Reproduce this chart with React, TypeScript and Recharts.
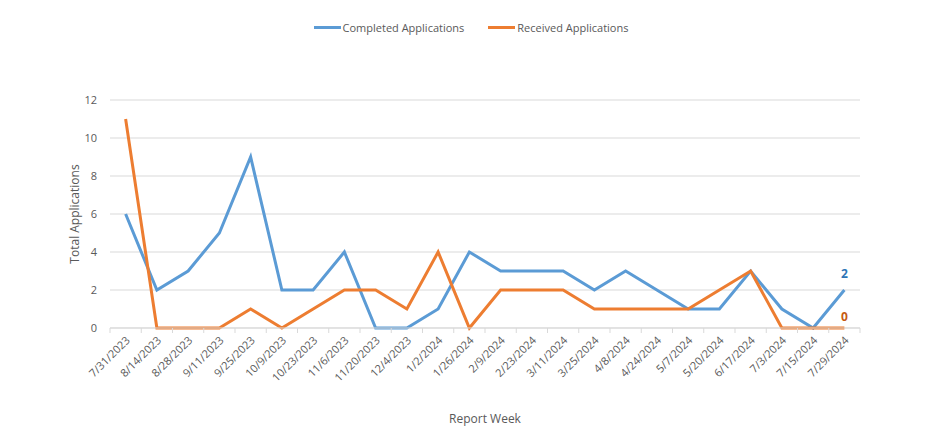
import React from "react";
import {
  CartesianGrid,
  LabelList,
  Legend,
  Line,
  LineChart,
  XAxis,
  YAxis,
} from "recharts";

const weeks = [
  "7/31/2023", "8/14/2023", "8/28/2023", "9/11/2023", "9/25/2023", "10/9/2023",
  "10/23/2023", "11/6/2023", "11/20/2023", "12/4/2023", "1/2/2024", "1/26/2024",
  "2/9/2024", "2/23/2024", "3/11/2024", "3/25/2024", "4/8/2024", "4/24/2024",
  "5/7/2024", "5/20/2024", "6/17/2024", "7/3/2024", "7/15/2024", "7/29/2024",
];
const completed = [6, 2, 3, 5, 9, 2, 2, 4, 0, 0, 1, 4, 3, 3, 3, 2, 3, 2, 1, 1, 3, 1, 0, 2];
const received = [11, 0, 0, 0, 1, 0, 1, 2, 2, 1, 4, 0, 2, 2, 2, 1, 1, 1, 1, 2, 3, 0, 0, 0];
const yTicks = [0, 2, 4, 6, 8, 10, 12];

const data = weeks.map((week, i) => ({
  week,
  completed: completed[i],
  received: received[i],
}));

const W = 926;
const H = 445;
const MARGIN = { top: 80, right: 66, bottom: 17, left: 50 };
const Y_WIDTH = 60;
const FONT = "'Open Sans', sans-serif";
const TEXT = "#595959";
const GRID = "#d9d9d9";
const BLUE = "#5b9bd5";
const ORANGE = "#ed7d31";

const plotWidth = W - MARGIN.left - MARGIN.right - Y_WIDTH;
const band = plotWidth / weeks.length;

function WeekTick(props: any) {
  const { x, y, payload, index } = props;
  const half = band / 2;
  return (
    <g>
      <line x1={x - half} y1={y} x2={x - half} y2={y + 5} stroke={GRID} />
      {index === weeks.length - 1 && (
        <line x1={x + half} y1={y} x2={x + half} y2={y + 5} stroke={GRID} />
      )}
      <text
        x={x + 5}
        y={y + 13}
        textAnchor="end"
        transform={`rotate(-45, ${x + 5}, ${y + 13})`}
        fontSize={11}
        fontFamily={FONT}
        fill={TEXT}
      >
        {payload.value}
      </text>
    </g>
  );
}

const lastLabel = (color: string, dy: number) => (props: any) => {
  const { x, y, value, index } = props;
  if (index !== weeks.length - 1) return null;
  return (
    <text
      x={x}
      y={y + dy}
      textAnchor="middle"
      fontSize={12}
      fontWeight="bold"
      fontFamily={FONT}
      fill={color}
    >
      {value}
    </text>
  );
};

function LegendBox() {
  const items = [
    { name: "Completed Applications", color: BLUE },
    { name: "Received Applications", color: ORANGE },
  ];
  return (
    <div
      style={{
        display: "flex",
        justifyContent: "center",
        gap: 24,
        height: 20,
        paddingLeft: 16,
        alignItems: "center",
        fontFamily: FONT,
        fontSize: 11,
        color: TEXT,
      }}
    >
      {items.map((it) => (
        <div key={it.name} style={{ display: "flex", alignItems: "center" }}>
          <span
            style={{
              display: "inline-block",
              width: 27,
              height: 3,
              background: it.color,
              marginRight: 2,
            }}
          />
          {it.name}
        </div>
      ))}
    </div>
  );
}

export default function App() {
  return (
    <div style={{ position: "absolute", left: 0, top: 0, background: "#fff" }}>
      <LineChart width={W} height={H} data={data} margin={MARGIN}>
        <CartesianGrid vertical={false} stroke={GRID} />
        <Legend
          verticalAlign="top"
          content={<LegendBox />}
          wrapperStyle={{ top: 17, left: 0, width: W }}
        />
        <XAxis
          dataKey="week"
          interval={0}
          height={100}
          tickLine={false}
          tickSize={0}
          tickMargin={0}
          axisLine={{ stroke: GRID }}
          padding={{ left: band / 2, right: band / 2 }}
          tick={<WeekTick />}
          label={{
            value: "Report Week",
            position: "insideBottom",
            offset: 5,
            style: { fontFamily: FONT, fontSize: 12, fill: TEXT },
          }}
        />
        <YAxis
          width={Y_WIDTH}
          domain={[0, 12]}
          ticks={yTicks}
          axisLine={false}
          tickLine={false}
          tickMargin={7}
          tick={{ fontFamily: FONT, fontSize: 11, fill: TEXT }}
          label={{
            value: "Total Applications",
            angle: -90,
            position: "insideLeft",
            offset: 25,
            style: { textAnchor: "middle", fontFamily: FONT, fontSize: 12, fill: TEXT },
          }}
        />
        <Line
          dataKey="completed"
          name="Completed Applications"
          stroke={BLUE}
          strokeWidth={3}
          dot={false}
          isAnimationActive={false}
        >
          <LabelList dataKey="completed" content={lastLabel("#2e75b6", -12)} />
        </Line>
        <Line
          dataKey="received"
          name="Received Applications"
          stroke={ORANGE}
          strokeWidth={3}
          dot={false}
          isAnimationActive={false}
        >
          <LabelList dataKey="received" content={lastLabel("#c55a11", -7)} />
        </Line>
      </LineChart>
    </div>
  );
}
